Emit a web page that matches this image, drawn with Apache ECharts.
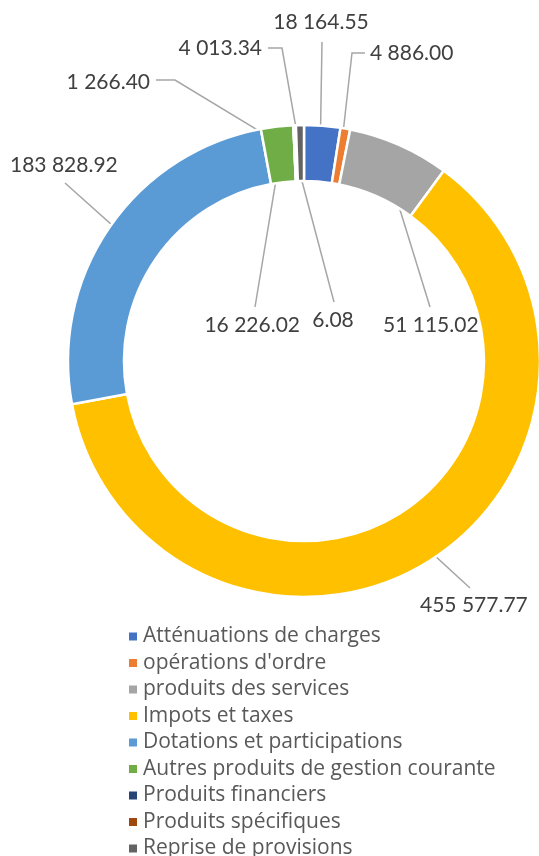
<!DOCTYPE html>
<html>
<head>
<meta charset="utf-8">
<script src="https://cdn.jsdelivr.net/npm/echarts@6/dist/echarts.min.js"></script>
<style>
    html, body { margin: 0; padding: 0; background: #fff; }
    #main { width: 539px; height: 856px; }
</style>
</head>
<body>
<div id="main"></div>
<script>
    // données
    var categories = ["Atténuations de charges", "opérations d'ordre", "produits des services",
        "Impots et taxes", "Dotations et participations", "Autres produits de gestion courante",
        "Produits financiers", "Produits spécifiques", "Reprise de provisions"];
    var values = [18164.55, 4886.00, 51115.02, 455577.77, 183828.92, 16226.02, 6.08, 1266.40, 4013.34];
    var colors = ["#4472C4", "#ED7D31", "#A5A5A5", "#FFC000", "#5B9BD5", "#70AD47", "#264478", "#9E480E", "#636363"];

    // position des étiquettes : [x, y, align, coude x, coude y, fin x, fin y]
    var labelPos = [
        [321, 22, "center", 322, 42, 322, 42],
        [370, 53, "left", 352, 53, 365, 53],
        [383, 325, "left", 430, 307, 430, 307],
        [420, 605, "left", 470, 588, 470, 588],
        [10, 165, "left", 65, 183, 65, 183],
        [300, 325, "right", 255, 307, 255, 307],
        [333, 320, "center", 334, 302, 334, 302],
        [150, 82, "right", 175, 80, 156, 80],
        [262, 48, "right", 282, 48, 268, 48]
    ];

    var cx = 304, cy = 361, r0 = 180, r1 = 236;

    function fmt(v) {
        var s = v.toFixed(2).split(".");
        return s[0].replace(/\B(?=(\d{3})+(?!\d))/g, " ") + "." + s[1];
    }

    // point au milieu de l'anneau pour chaque part
    var total = values.reduce(function (a, b) { return a + b; }, 0);
    var anchors = [];
    var acc = 0;
    values.forEach(function (v) {
        var mid = (acc + v / 2) / total * Math.PI * 2;
        var rm = (r0 + r1) / 2;
        anchors.push([cx + rm * Math.sin(mid), cy - rm * Math.cos(mid)]);
        acc += v;
    });

    var data = categories.map(function (c, i) {
        return { name: c, value: values[i], itemStyle: { color: colors[i] } };
    });

    var myChart = echarts.init(document.getElementById("main"));
    myChart.setOption({
        animation: false,
        legend: {
            orient: "vertical",
            left: 127,
            top: 626,
            height: 400,
            padding: 0,
            itemWidth: 10,
            itemHeight: 10,
            itemGap: 5.5,
            icon: "rect",
            textStyle: { fontFamily: "Open Sans", fontSize: 21, color: "#595959" },
            data: categories
        },
        series: [{
            type: "pie",
            center: [cx, cy],
            radius: [r0, r1],
            startAngle: 90,
            clockwise: true,
            avoidLabelOverlap: false,
            itemStyle: { borderColor: "#fff", borderWidth: 2.5 },
            label: {
                show: true,
                position: "outside",
                formatter: function (p) { return fmt(p.value); },
                fontFamily: "Lato",
                fontSize: 21,
                color: "#404040"
            },
            labelLine: { show: true, lineStyle: { color: "#A6A6A6", width: 1.5 } },
            labelLayout: function (params) {
                var i = params.dataIndex;
                var lp = labelPos[i];
                return {
                    x: lp[0],
                    y: lp[1],
                    align: lp[2],
                    verticalAlign: "middle",
                    labelLinePoints: [anchors[i], [lp[3], lp[4]], [lp[5], lp[6]]]
                };
            },
            data: data
        }]
    });
</script>
</body>
</html>
